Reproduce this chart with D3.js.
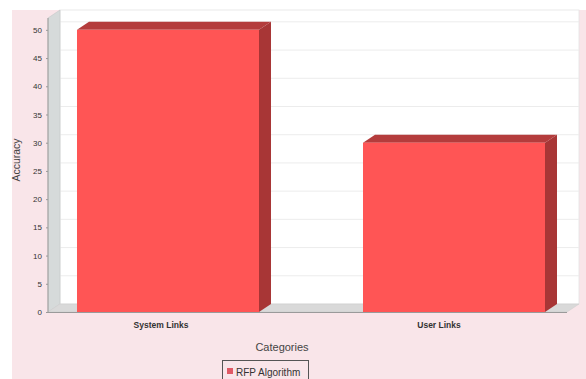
<!DOCTYPE html>
<html><head><meta charset="utf-8">
<script src="https://cdn.jsdelivr.net/npm/d3@7"></script>
<style>body{margin:0;background:#fff}svg{display:block}text{font-family:"Liberation Sans",Arial,sans-serif}</style>
</head><body>
<svg id="c" width="586" height="379"></svg>
<script>
const categories = ["System Links", "User Links"];
const values = [50, 30];
const seriesName = "RFP Algorithm";
const yTicks = [0,5,10,15,20,25,30,35,40,45,50];

(function(){
const svg = d3.select("#c");
const W = 586, H = 379;
const dx = 12, dy = 8;
const pLeft = 48, pRight = 567, pBottom = 312, pTop = 18;

svg.append("rect").attr("x",12).attr("y",10).attr("width",W-12).attr("height",H-10).attr("fill","#f9e5e9");

const y = d3.scaleLinear().domain([0,52.1]).range([pBottom, pTop]);
const x = d3.scaleBand().domain(categories).range([pLeft+3, pRight+4]).paddingInner(0.3636).paddingOuter(0.0909);

// back wall
svg.append("rect").attr("x",pLeft+dx).attr("y",pTop-dy).attr("width",pRight-pLeft).attr("height",pBottom-pTop)
  .attr("fill","#ffffff").attr("stroke","#e4e4e4").attr("stroke-width",0.8);
// gridlines on back wall
svg.append("g").selectAll("line").data(yTicks.filter(t=>t>0)).join("line")
  .attr("x1",pLeft+dx).attr("x2",pRight+dx)
  .attr("y1",d=>y(d)-dy).attr("y2",d=>y(d)-dy)
  .attr("stroke","#ececec").attr("stroke-width",1);
// left wall
svg.append("polygon").attr("points",[[pLeft,pTop],[pLeft+dx,pTop-dy],[pLeft+dx,pBottom-dy],[pLeft,pBottom]].join(" "))
  .attr("fill","#d6dada").attr("stroke","#c4c8c8").attr("stroke-width",0.6);
// floor
svg.append("polygon").attr("points",[[pLeft,pBottom],[pLeft+dx,pBottom-dy],[pRight+dx,pBottom-dy],[pRight,pBottom]].join(" "))
  .attr("fill","#d9d9d9").attr("stroke","#cfcfcf").attr("stroke-width",0.6);

// bars
const bars = svg.append("g").selectAll("g").data(categories.map((c,i)=>({c,v:values[i]}))).join("g");
bars.append("polygon").attr("points",d=>{
  const x0=x(d.c), x1=x0+x.bandwidth(), yt=y(d.v);
  return [[x0,yt],[x0+dx,yt-dy],[x1+dx,yt-dy],[x1,yt]].join(" ");
}).attr("fill","#b43c3c");
bars.append("polygon").attr("points",d=>{
  const x1=x(d.c)+x.bandwidth(), yt=y(d.v);
  return [[x1,yt],[x1+dx,yt-dy],[x1+dx,pBottom-dy],[x1,pBottom]].join(" ");
}).attr("fill","#a83636");
bars.append("rect").attr("x",d=>x(d.c)).attr("y",d=>y(d.v)).attr("width",x.bandwidth()).attr("height",d=>pBottom-y(d.v)).attr("fill","#ff5555");

// axes lines
svg.append("line").attr("x1",pLeft).attr("x2",pLeft).attr("y1",pTop).attr("y2",pBottom).attr("stroke","#9a9a9a");
svg.append("line").attr("x1",pLeft).attr("x2",pRight).attr("y1",pBottom+0.5).attr("y2",pBottom+0.5).attr("stroke","#9a9a9a");

// y axis
const yAxis = d3.axisLeft(y).tickValues(yTicks).tickSize(2).tickPadding(4);
const ya = svg.append("g").attr("transform",`translate(${pLeft},0)`).call(yAxis);
ya.select(".domain").remove();
ya.selectAll("line").attr("stroke","#9a9a9a");
ya.selectAll("text").attr("font-size",8).attr("fill","#333");

// x axis labels
const labelX = d3.scalePoint().domain(categories).range([161,439]);
svg.append("g").selectAll("text").data(categories).join("text")
  .attr("x",d=>labelX(d)).attr("y",328).attr("text-anchor","middle")
  .attr("font-size",8.5).attr("font-weight","bold").attr("fill","#333").text(d=>d);

// axis titles
svg.append("text").attr("transform","translate(20,160) rotate(-90)").attr("text-anchor","middle")
  .attr("font-size",10.5).attr("fill","#444").text("Accuracy");
svg.append("text").attr("x",282).attr("y",351).attr("text-anchor","middle")
  .attr("font-size",11).attr("fill","#444").text("Categories");

// legend
const lg = svg.append("g");
lg.append("rect").attr("x",222.5).attr("y",360.5).attr("width",86).attr("height",22).attr("fill","#f9e5e9").attr("stroke","#555");
lg.append("rect").attr("x",227).attr("y",368).attr("width",6).attr("height",6).attr("fill","#e05a66");
lg.append("text").attr("x",236).attr("y",375.5).attr("font-size",10).attr("fill","#333").text(seriesName);
})();
</script>
</body></html>
